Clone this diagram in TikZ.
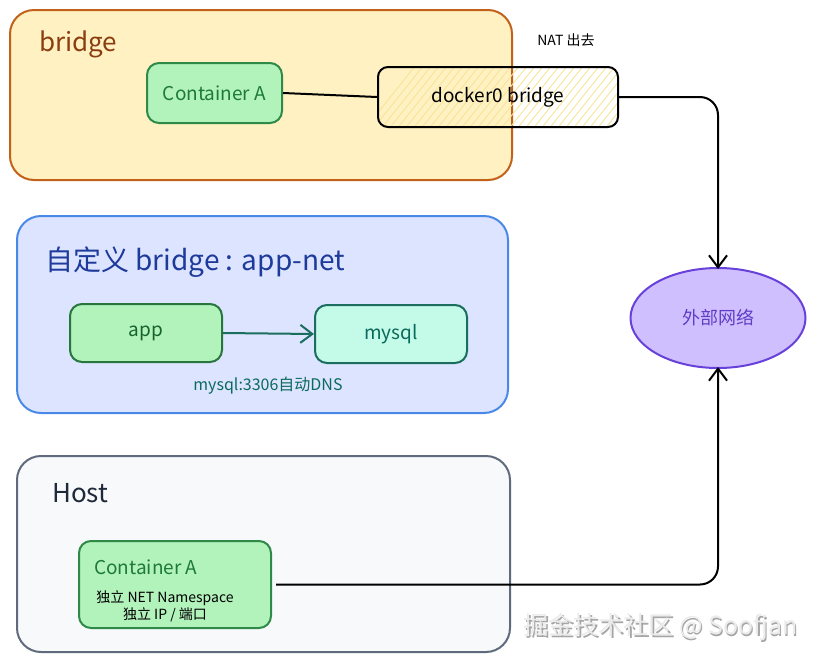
\documentclass[tikz,border=0pt]{standalone}
\usepackage{fontspec}
\setmainfont{Noto Sans CJK SC}
\usetikzlibrary{arrows.meta,shapes.geometric}
\definecolor{brFill}{HTML}{FFF1C2}
\definecolor{brDraw}{HTML}{C2621A}
\definecolor{brText}{HTML}{8A3D10}
\definecolor{gFill}{HTML}{B2F2BB}
\definecolor{gDraw}{HTML}{2F8A48}
\definecolor{gText}{HTML}{1E7A38}
\definecolor{blFill}{HTML}{DCE4FF}
\definecolor{blDraw}{HTML}{4A88E8}
\definecolor{blText}{HTML}{1E3A9A}
\definecolor{tFill}{HTML}{C3FAE8}
\definecolor{tDraw}{HTML}{1B6E5E}
\definecolor{tText}{HTML}{0B6A5C}
\definecolor{hFill}{HTML}{F8F9FB}
\definecolor{hDraw}{HTML}{5F6B7C}
\definecolor{hText}{HTML}{1E2A3A}
\definecolor{pFill}{HTML}{D0BFFF}
\definecolor{pDraw}{HTML}{6741D9}
\definecolor{pText}{HTML}{5F3DC4}
\definecolor{hatch}{HTML}{F6E59A}
\tikzset{
  frame/.style={rounded corners=24pt, line width=2pt},
  gbox/.style={draw=gDraw, fill=gFill, rounded corners=12pt, line width=2pt},
  lbl/.style={inner sep=0pt, anchor=west},
  arr/.style={line width=2pt, -{Straight Barb[length=12pt,width=18pt,line width=2pt]}},
}
\begin{document}
\begin{tikzpicture}[x=1pt,y=-1pt]
\useasboundingbox (0,0) rectangle (817,662);
% frames
\draw[frame, draw=brDraw, fill=brFill] (10,10) rectangle (512,180);
\node[lbl, text=brText, font=\fontsize{26}{28}\selectfont] (brt) at (39,44) {bridge};
\draw[frame, draw=blDraw, fill=blFill] (17,216) rectangle (508,413);
\node[lbl, text=blText, font=\fontsize{28}{30}\selectfont] (blt) at (45,262) {自定义 bridge : app-net};
\draw[frame, draw=hDraw, fill=hFill] (17,456) rectangle (510,652);
\node[lbl, text=hText, font=\fontsize{26}{28}\selectfont] (ht) at (52,493) {Host};
% bridge contents
\node[gbox, minimum width=135pt, minimum height=60pt, text=gText, font=\fontsize{19}{21}\selectfont] (ca) at (214.5,93) {Container A};
\begin{scope}
  \clip[rounded corners=10pt] (378,67) rectangle (618,127);
  \foreach \i in {0,...,40} {
    \draw[hatch, line width=0.9pt] (360+\i*8,135) -- (420+\i*8,60);
  }
\end{scope}
\node[draw=black, line width=2pt, rounded corners=10pt, minimum width=240pt, minimum height=60pt, font=\fontsize{19}{21}\selectfont] (dock) at (498,97) {docker0 bridge};
\node[font=\fontsize{14}{16}\selectfont] (nat) at (566,40) {NAT 出去};
\draw[line width=2pt] (ca.east) -- (dock.west);
% external network
\node[ellipse, draw=pDraw, fill=pFill, line width=2pt, minimum width=175pt, minimum height=100pt, text=pText, font=\fontsize{18}{20}\selectfont] (net) at (718,318) {外部网络};
\draw[arr, rounded corners=18pt] (dock.east) -| ([yshift=-2pt]net.north);
% app-net
\node[gbox, draw=gDraw!85!black, minimum width=152pt, minimum height=58pt, text=gText!80!black, font=\fontsize{19}{21}\selectfont] (app) at (146,333) {app};
\node[draw=tDraw, fill=tFill, rounded corners=12pt, line width=2pt, minimum width=152pt, minimum height=58pt, text=tText, font=\fontsize{19}{21}\selectfont] (mysql) at (391,334) {mysql};
\draw[arr, draw=tDraw] (app.east) -- (mysql.west);
\node[text=tText, font=\fontsize{16}{18}\selectfont] (dns) at (268,386) {mysql:3306自动DNS};
% host
\node[gbox, minimum width=192pt, minimum height=87pt] (hc) at (175,584.5) {};
\node[lbl, text=gText, font=\fontsize{19}{21}\selectfont] (hct) at (94,567) {Container A};
\node[font=\fontsize{14}{16}\selectfont] (hl1) at (165,598) {独立 NET Namespace};
\node[font=\fontsize{14}{16}\selectfont] (hl2) at (165,615) {独立 IP / 端口};
\draw[arr, rounded corners=18pt] ([xshift=4pt]hc.east) -| ([yshift=2pt]net.south);
% watermark
\node[anchor=west, text=black!35, font=\fontsize{25}{27}\selectfont] (wm0) at (521.5,628.5) {掘金技术社区 @ Soofjan};
\node[anchor=west, text=white!92!black, font=\fontsize{25}{27}\selectfont] (wm) at (520,627) {掘金技术社区 @ Soofjan};
\end{tikzpicture}
\end{document}
